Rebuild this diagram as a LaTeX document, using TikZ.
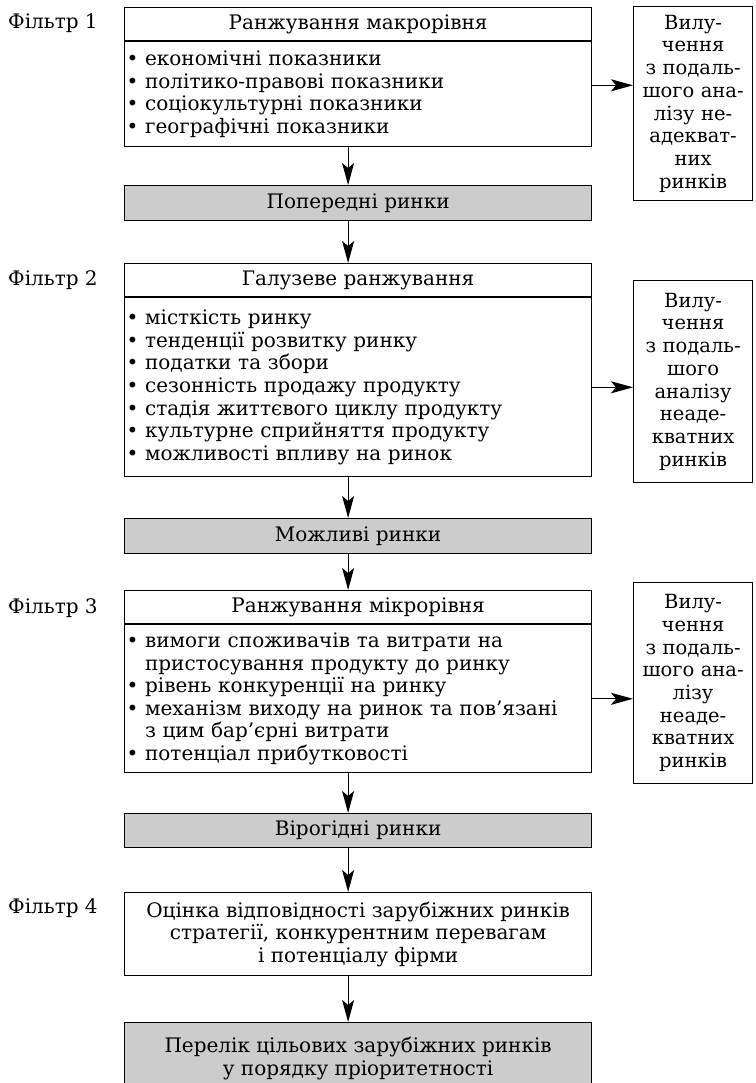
\documentclass[tikz,border=0pt]{standalone}
\usepackage{fontspec}
\setmainfont{DejaVu Serif}
\usetikzlibrary{positioning,arrows.meta}

\newcommand{\fsz}{\fontsize{20}{22.6}\selectfont}
\newcommand{\dsz}{\fontsize{19.5}{22.7}\selectfont}
\newcommand{\itm}{\textbullet\ }
\newcommand{\itmgap}{\phantom{\textbullet\ }}

\tikzset{
  filterlab/.style={anchor=west, inner sep=0pt, font=\fsz},
  headbox/.style={draw, line width=1.2pt, anchor=north west, minimum width=467pt, minimum height=33pt, inner sep=0pt, font=\fsz},
  listbox/.style={draw, line width=1.2pt, text width=463pt, inner xsep=2pt, inner ysep=0pt, align=left, font=\fsz},
  marketbox/.style={draw, line width=1.2pt, fill=gray!40, anchor=north west, minimum width=467pt, inner sep=0pt, align=center, font=\fsz},
  dropbox/.style={draw, line width=1.2pt, anchor=north west, text width=113pt, inner xsep=3pt, inner ysep=0pt, align=center, font=\dsz},
  arr/.style={-{Stealth[length=22pt,width=12pt,inset=5pt]}, line width=1.2pt},
}

\begin{document}
\begin{tikzpicture}[x=1pt,y=-1pt]
\useasboundingbox (0,0) rectangle (755,1083);

% Filter 1
\node[filterlab] (lab1) at (8,23) {Фільтр 1};
\node[headbox] (f1head) at (124,7) {Ранжування макрорівня};
\node[listbox, minimum height=105pt, below=0pt of f1head] (f1list) {\itm економічні показники\\
\itm політико-правові показники\\
\itm соціокультурні показники\\
\itm географічні показники};
\node[dropbox, minimum height=194pt] (drop1) at (633,6) {Вилу-\\чення\\з подаль-\\шого ана-\\лізу не-\\адекват-\\них\\ринків};
\node[marketbox, minimum height=35pt] (mkt1) at (124,185) {Попередні ринки};

% Filter 2
\node[filterlab] (lab2) at (8,280) {Фільтр 2};
\node[headbox] (f2head) at (124,263) {Галузеве ранжування};
\node[listbox, minimum height=179pt, below=0pt of f2head] (f2list) {\itm місткість ринку\\
\itm тенденції розвитку ринку\\
\itm податки та збори\\
\itm сезонність продажу продукту\\
\itm стадія життєвого циклу продукту\\
\itm культурне сприйняття продукту\\
\itm можливості впливу на ринок};
\node[dropbox, minimum height=202pt] (drop2) at (633,280) {Вилу-\\чення\\з подаль-\\шого\\аналізу\\неаде-\\кватних\\ринків};
\node[marketbox, minimum height=35pt] (mkt2) at (124,518) {Можливі ринки};

% Filter 3
\node[filterlab] (lab3) at (8,608) {Фільтр 3};
\node[headbox] (f3head) at (124,590) {Ранжування мікрорівня};
\node[listbox, minimum height=148pt, below=0pt of f3head] (f3list) {\itm вимоги споживачів та витрати на\\
\itmgap пристосування продукту до ринку\\
\itm рівень конкуренції на ринку\\
\itm механізм виходу на ринок та пов’язані\\
\itmgap з цим бар’єрні витрати\\
\itm потенціал прибутковості};
\node[dropbox, minimum height=201pt] (drop3) at (633,582) {Вилу-\\чення\\з подаль-\\шого ана-\\лізу\\неаде-\\кватних\\ринків};
\node[marketbox, minimum height=34pt] (mkt3) at (124,813) {Вірогідні ринки};

% Filter 4
\node[filterlab] (lab4) at (8,908) {Фільтр 4};
\node[marketbox, fill=none, minimum height=83pt] (f4box) at (124,892) {Оцінка відповідності зарубіжних ринків\\
стратегії, конкурентним перевагам\\
і потенціалу фірми};
\node[marketbox, minimum height=72pt] (mkt4) at (124,1022) {Перелік цільових зарубіжних ринків\\
у порядку пріоритетності};

% Connectors
\draw[arr] ([xshift=-10pt]f1list.south) -- ([xshift=-10pt]mkt1.north);
\draw[arr] ([xshift=-10pt]mkt1.south) -- ([xshift=-10pt]f2head.north);
\draw[arr] ([xshift=-10pt]f2list.south) -- ([xshift=-10pt]mkt2.north);
\draw[arr] ([xshift=-10pt]mkt2.south) -- ([xshift=-10pt]f3head.north);
\draw[arr] ([xshift=-10pt]f3list.south) -- ([xshift=-10pt]mkt3.north);
\draw[arr] ([xshift=-10pt]mkt3.south) -- ([xshift=-10pt]f4box.north);
\draw[arr] ([xshift=-10pt]f4box.south) -- ([xshift=-10pt]mkt4.north);
\draw[arr] ([yshift=9pt]f1list.east) -- ([yshift=9pt]f1list.east -| drop1.west);
\draw[arr] (f2list.east) -- (f2list.east -| drop2.west);
\draw[arr] (f3list.east) -- (f3list.east -| drop3.west);

\end{tikzpicture}
\end{document}
